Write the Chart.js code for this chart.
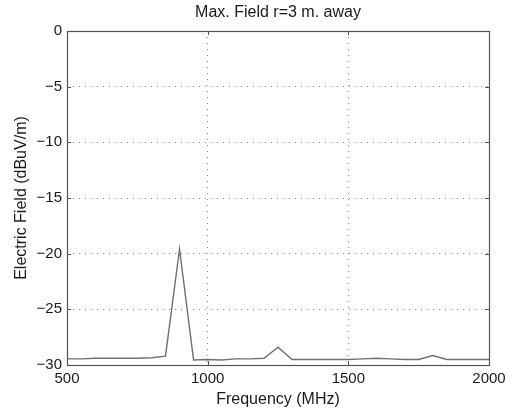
<!DOCTYPE html>
<html>
<head>
<meta charset="utf-8">
<script src="https://cdn.jsdelivr.net/npm/chart.js@4/dist/chart.umd.min.js"></script>
<style>
  html, body { margin: 0; padding: 0; background: #fff; }
  #wrap { width: 512px; height: 415px; }
</style>
</head>
<body>
<div id="wrap"><canvas id="fieldChart" width="512" height="415"></canvas></div>
<script>
// frequency samples (MHz) and measured field (dBuV/m)
var freqs = [500, 550, 600, 650, 700, 750, 800, 850, 900, 950, 1000, 1050, 1100, 1150, 1200,
  1250, 1300, 1350, 1400, 1450, 1500, 1550, 1600, 1650, 1700, 1750, 1800, 1850, 1900, 1950, 2000]
var field = [-29.45, -29.45, -29.4, -29.4, -29.4, -29.4, -29.35, -29.2, -19.6, -29.55, -29.5, -29.55, -29.45, -29.45, -29.4,
  -28.4, -29.5, -29.5, -29.5, -29.5, -29.5, -29.45, -29.4, -29.45, -29.5, -29.5, -29.15, -29.5, -29.5, -29.5, -29.5]
var xTicks = [500, 1000, 1500, 2000]
var yTicks = [0, -5, -10, -15, -20, -25, -30]

var FONT = 'Liberation Sans, Arial, Helvetica, sans-serif'
var TEXT = '#1a1a1a'

// box around the plot + inward ticks like matlab
var framePlugin = {
  id: 'frame',
  afterDatasetsDraw(chart) {
    const { ctx, chartArea: a, scales } = chart
    ctx.save()
    ctx.strokeStyle = '#555'
    ctx.lineWidth = 1
    ctx.beginPath()
    xTicks.forEach((v) => {
      const x = Math.round(scales.x.getPixelForValue(v)) + 0.5
      ctx.moveTo(x, a.bottom); ctx.lineTo(x, a.bottom - 4)
      ctx.moveTo(x, a.top); ctx.lineTo(x, a.top + 4)
    })
    yTicks.forEach((v) => {
      const y = Math.round(scales.y.getPixelForValue(v)) + 0.5
      ctx.moveTo(a.left, y); ctx.lineTo(a.left + 4, y)
      ctx.moveTo(a.right, y); ctx.lineTo(a.right - 4, y)
    })
    ctx.stroke()
    ctx.lineWidth = 1.2
    ctx.strokeRect(Math.round(a.left) + 0.5, Math.round(a.top) + 0.5,
      Math.round(a.right - a.left), Math.round(a.bottom - a.top))
    ctx.restore()
  }
}

const ctx = document.getElementById('fieldChart').getContext('2d')
new Chart(ctx, {
  type: 'line',
  data: {
    datasets: [
      {
        label: 'Max. Field',
        data: freqs.map((f, i) => ({ x: f, y: field[i] })),
        borderColor: '#707070',
        borderWidth: 1.4,
        pointRadius: 0,
        tension: 0,
        fill: false,
      },
    ],
  },
  options: {
    responsive: false,
    animation: false,
    events: [],
    layout: { padding: { left: 0, right: 23, top: 0, bottom: 0 } },
    plugins: {
      legend: { display: false },
      tooltip: { enabled: false },
      title: { display: false },
    },
    scales: {
      // top axis only carries the title so it centres over the plot
      top: {
        type: 'linear',
        position: 'top',
        min: 500,
        max: 2000,
        afterFit: (scale) => { scale.height = 31 },
        ticks: { display: false },
        grid: { display: false, drawTicks: false },
        border: { display: false },
        title: {
          display: true,
          text: 'Max. Field r=3 m. away',
          color: TEXT,
          font: { family: FONT, size: 16 },
          padding: { top: 3, bottom: 0 },
        },
      },
      x: {
        type: 'linear',
        min: 500,
        max: 2000,
        afterFit: (scale) => { scale.height = 50 },
        afterBuildTicks: (scale) => { scale.ticks = xTicks.map((v) => ({ value: v })) },
        ticks: {
          color: TEXT,
          font: { family: FONT, size: 15 },
          padding: 5,
          maxRotation: 0,
          callback: (v) => String(v),
        },
        grid: {
          drawTicks: false,
          color: '#8a8a8a',
          lineWidth: 1,
        },
        border: { display: false, dash: [1, 5] },
        title: {
          display: true,
          text: 'Frequency (MHz)',
          color: TEXT,
          font: { family: FONT, size: 16 },
          padding: { top: 0, bottom: 6 },
        },
      },
      y: {
        type: 'linear',
        min: -30,
        max: 0,
        afterFit: (scale) => { scale.width = 67 },
        afterBuildTicks: (scale) => { scale.ticks = yTicks.map((v) => ({ value: v })) },
        ticks: {
          color: TEXT,
          font: { family: FONT, size: 15 },
          padding: 5,
          callback: (v) => String(v).replace('-', '\u2212'),
        },
        grid: {
          drawTicks: false,
          color: '#8a8a8a',
          lineWidth: 1,
        },
        border: { display: false, dash: [1, 5] },
        title: {
          display: true,
          text: 'Electric Field (dBuV/m)',
          color: TEXT,
          font: { family: FONT, size: 16 },
          padding: { top: 12, bottom: 0 },
        },
      },
    },
  },
  plugins: [framePlugin],
})
</script>
</body>
</html>
